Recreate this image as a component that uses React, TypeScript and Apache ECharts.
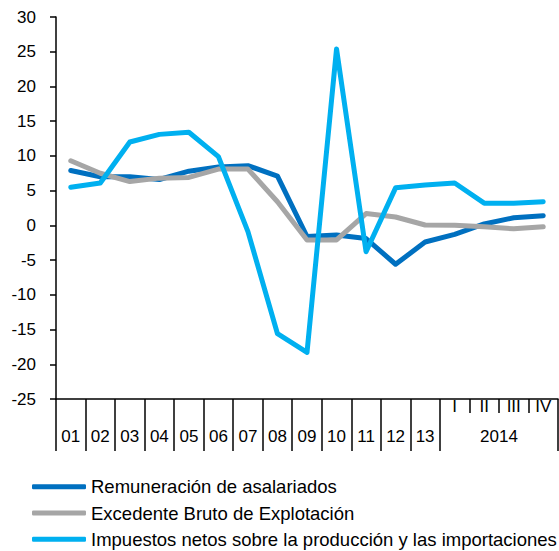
import React, { useEffect, useRef } from "react";
import * as echarts from "echarts";

const categories = ["01","02","03","04","05","06","07","08","09","10","11","12","13","I","II","III","IV"];
const yearLabels = ["01","02","03","04","05","06","07","08","09","10","11","12","13","2014"];
const remuneracion = [7.9, 7.0, 7.0, 6.6, 7.8, 8.4, 8.6, 7.1, -1.6, -1.4, -1.9, -5.6, -2.4, -1.3, 0.2, 1.1, 1.4];
const excedente = [9.3, 7.5, 6.3, 6.8, 6.9, 8.1, 8.1, 3.4, -2.1, -2.1, 1.7, 1.2, 0.05, 0.0, -0.2, -0.5, -0.2];
const impuestos = [5.5, 6.1, 12.0, 13.1, 13.4, 9.9, -0.9, -15.6, -18.3, 25.4, -3.8, 5.4, 5.8, 6.1, 3.2, 3.2, 3.4];
const seriesNames = [
  "Remuneración de asalariados",
  "Excedente Bruto de Explotación",
  "Impuestos netos sobre la producción y las importaciones",
];
const colors = ["#0070C0", "#A6A6A6", "#00B0F0"];

const FONT = "'Liberation Sans', Arial, sans-serif";
const AXIS_FS = 17;

export default function App() {
  const ref = useRef<HTMLDivElement>(null);
  useEffect(() => {
    if (!ref.current) return;
    const chart = echarts.init(ref.current, undefined, { renderer: "svg" });
    const lowerTicks = [...Array(14).keys(), 17];
    const lowerLabelPos = [...Array(13).keys()].map((i) => i + 0.5).concat([15]);
    const mkSeries = (name: string, data: number[], color: string) => ({
      name,
      type: "line",
      data,
      xAxisIndex: 0,
      symbol: "none",
      smooth: false,
      color,
      lineStyle: { width: 5, color, cap: "round", join: "round" },
    });
    chart.setOption({
      animation: false,
      textStyle: { fontFamily: FONT },
      grid: { left: 56, right: 1, top: 17, bottom: 152, containLabel: false },
      legend: {
        orient: "vertical",
        left: 32,
        top: 476.7,
        itemWidth: 54,
        itemHeight: 5,
        itemGap: 6.3,
        icon: "roundRect",
        padding: 0,
        textStyle: { fontSize: 18.5, color: "#000", fontFamily: FONT, lineHeight: 20 },
        data: seriesNames,
      },
      xAxis: [
        {
          type: "category",
          data: categories,
          boundaryGap: true,
          position: "bottom",
          axisLine: { show: true, onZero: false, lineStyle: { color: "#000", width: 1.5 } },
          axisTick: { show: true, interval: 0, length: 14, lineStyle: { color: "#000", width: 1.5 } },
          axisLabel: {
            interval: 0,
            margin: -1,
            fontSize: AXIS_FS,
            color: "#000",
            fontFamily: FONT,
            formatter: (v: string, i: number) => (i >= 13 ? v : ""),
          },
          splitLine: { show: false },
        },
        {
          type: "value",
          min: 0,
          max: 17,
          position: "bottom",
          offset: 14,
          axisLine: { show: false, onZero: false },
          axisTick: { show: true, customValues: lowerTicks, length: 38, lineStyle: { color: "#000", width: 1.5 } },
          axisLabel: {
            customValues: lowerLabelPos,
            margin: 15,
            fontSize: AXIS_FS,
            color: "#000",
            fontFamily: FONT,
            formatter: (v: number) => {
              const idx = lowerLabelPos.indexOf(v);
              return idx >= 0 ? yearLabels[idx] : "";
            },
          },
          splitLine: { show: false },
        },
      ],
      yAxis: {
        type: "value",
        min: -25,
        max: 30,
        interval: 5,
        axisLine: { show: true, lineStyle: { color: "#000", width: 1.5 } },
        axisTick: { show: true, length: 6, lineStyle: { color: "#000", width: 1.5 } },
        axisLabel: { fontSize: AXIS_FS, color: "#000", margin: 20, fontFamily: FONT },
        splitLine: { show: false },
      },
      series: [
        mkSeries(seriesNames[0], remuneracion, colors[0]),
        mkSeries(seriesNames[1], excedente, colors[1]),
        mkSeries(seriesNames[2], impuestos, colors[2]),
      ],
    });
    return () => chart.dispose();
  }, []);
  return (
    <div
      ref={ref}
      style={{ position: "fixed", left: 0, top: 0, width: 559, height: 551, background: "#fff" }}
    />
  );
}
